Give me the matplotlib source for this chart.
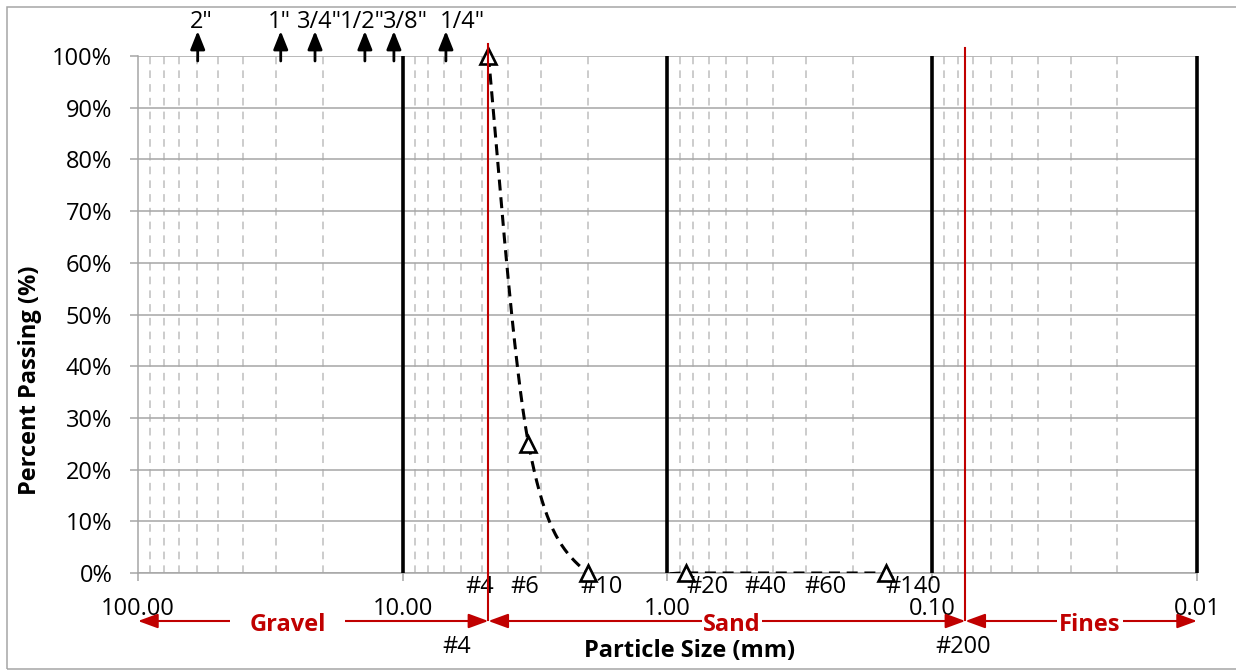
import numpy as np
import matplotlib
matplotlib.use("Agg")
import matplotlib.pyplot as plt
from matplotlib.patches import Rectangle
from matplotlib.ticker import LogLocator, NullFormatter

# ---------------- data ----------------
sieve_size_mm = [4.75, 3.35, 2.0, 0.85, 0.15]
percent_passing = [100, 25, 0, 0, 0]

x_tick_values = [100, 10, 1, 0.1, 0.01]
x_tick_labels = ["100.00", "10.00", "1.00", "0.10", "0.01"]
y_tick_values = list(range(0, 101, 10))
y_tick_labels = [f"{v}%" for v in y_tick_values]

decade_lines_mm = [10, 1, 0.1, 0.01]

sieve_labels = ["#4", "#6", "#10", "#20", "#40", "#60", "#140"]
sieve_label_mm = [5.11, 3.45, 1.78, 0.709, 0.428, 0.252, 0.118]

inch_labels = ['2"', '1"', '3/4"', '1/2"', '3/8"', '1/4"']
inch_arrow_mm = [59.5, 28.9, 21.45, 13.9, 10.8, 6.87]
inch_label_mm = [57.6, 29.3, 20.7, 14.19, 9.80, 5.94]

boundary_mm = [4.75, 0.075]
boundary_labels = ["#4", "#200"]
boundary_label_mm = [6.23, 0.0765]

zone_names = ["Gravel", "Sand", "Fines"]
zone_edges_mm = [(100, 4.75), (4.75, 0.075), (0.075, 0.01)]
zone_label_mm = [27.25, 0.571, 0.0254]

# ---------------- style ----------------
RED = "#C00000"
GRID = "#A6A6A6"
MINOR = "#BFBFBF"
plt.rcParams["font.family"] = ["Open Sans", "DejaVu Sans"]
FS = 17

W, H = 1236, 671
fig = plt.figure(figsize=(W / 100, H / 100), dpi=100)
fig.patch.set_facecolor("white")

# outer chart frame
fig.add_artist(Rectangle((7 / W, 2 / H), (W + 10) / W, (H - 9) / H,
                         transform=fig.transFigure, fill=False,
                         edgecolor="#A6A6A6", lw=1.1))

L, R, B, T = 138, 1197, 573, 56
ax = fig.add_axes([L / W, 1 - B / H, (R - L) / W, (B - T) / H])
ax.set_xscale("log")
ax.set_xlim(100, 0.01)
ax.set_ylim(0, 100)


def px_to_pct(py):
    return (B - py) / (B - T) * 100.0


# grid
ax.xaxis.set_minor_locator(LogLocator(base=10, subs=np.arange(2, 10)))
ax.xaxis.set_minor_formatter(NullFormatter())
ax.grid(which="minor", axis="x", color=MINOR, lw=1.1, ls=(0, (5, 4)), zorder=1)
ax.grid(which="major", axis="y", color=GRID, lw=1.1, zorder=1)
ax.set_axisbelow(True)

for s in ["top", "right"]:
    ax.spines[s].set_visible(False)
for s in ["left", "bottom"]:
    ax.spines[s].set_color(GRID)
    ax.spines[s].set_linewidth(1.1)

ax.set_xticks(x_tick_values)
ax.set_xticklabels(x_tick_labels)
ax.set_yticks(y_tick_values)
ax.set_yticklabels(y_tick_labels)
ax.tick_params(axis="x", which="major", length=5.5, width=1.1, color=GRID,
               pad=12, labelsize=FS)
ax.tick_params(axis="x", which="minor", length=0)
ax.tick_params(axis="y", length=5.5, width=1.1, color=GRID, pad=13, labelsize=FS)

# black decade lines
for d in decade_lines_mm:
    ax.plot([d, d], [0, 100], color="black", lw=2.6, zorder=3,
            solid_capstyle="butt", clip_on=False)

# smooth curve (Catmull-Rom in log-x space)
u = np.log10(np.array(sieve_size_mm, dtype=float))
v = np.array(percent_passing, dtype=float)
P = np.column_stack([u, v])
Pe = np.vstack([P[0], P, P[-1]])
t = np.linspace(0, 1, 80)[:, None]
h00 = 2 * t**3 - 3 * t**2 + 1
h10 = t**3 - 2 * t**2 + t
h01 = -2 * t**3 + 3 * t**2
h11 = t**3 - t**2
segs = []
for i in range(1, len(Pe) - 2):
    p0, p1, p2, p3 = Pe[i - 1], Pe[i], Pe[i + 1], Pe[i + 2]
    m1 = (p2 - p0) / 2
    m2 = (p3 - p1) / 2
    segs.append(h00 * p1 + h10 * m1 + h01 * p2 + h11 * m2)
curve = np.vstack(segs)
ax.plot(10 ** curve[:, 0], curve[:, 1], color="black", lw=2.2,
        ls=(0, (3.6, 2.2)), zorder=4)

ax.plot(sieve_size_mm, percent_passing, ls="none", marker="^", ms=11,
        mfc="white", mec="black", mew=1.9, zorder=5, clip_on=False)

# red boundary lines
tops = [px_to_pct(44), px_to_pct(48)]
for b, tp in zip(boundary_mm, tops):
    ax.plot([b, b], [tp, px_to_pct(620)], color=RED, lw=1.5, zorder=6,
            clip_on=False)

# zone arrows
y_arrow = px_to_pct(621)
pads = [0.8, 0.05, 0.1]
for name, (a, b), lx, pd in zip(zone_names, zone_edges_mm, zone_label_mm, pads):
    ax.annotate("", xy=(a, y_arrow), xytext=(b, y_arrow),
                arrowprops=dict(arrowstyle="<|-|>,head_length=0.6,head_width=0.22",
                                color=RED, lw=1.5, mutation_scale=20,
                                shrinkA=0, shrinkB=0),
                annotation_clip=False, zorder=6)
    ax.text(lx, px_to_pct(625), name, color=RED, fontsize=FS, fontweight="bold",
            ha="center", va="center", zorder=7, clip_on=False,
            bbox=dict(boxstyle=f"square,pad={pd}", fc="white", ec="none"))

# sieve labels under axis
for lab, x in zip(sieve_labels, sieve_label_mm):
    ax.text(x, px_to_pct(587), lab, fontsize=FS, ha="center", va="center",
            clip_on=False)

for lab, x in zip(boundary_labels, boundary_label_mm):
    ax.text(x, px_to_pct(647), lab, fontsize=FS, ha="center", va="center",
            clip_on=False)

# inch sieve arrows on top
for lab, xa, xl in zip(inch_labels, inch_arrow_mm, inch_label_mm):
    ax.annotate("", xy=(xa, px_to_pct(31)), xytext=(xa, px_to_pct(61)),
                arrowprops=dict(arrowstyle="-|>,head_length=0.55,head_width=0.22",
                                color="black", lw=2.0, mutation_scale=20,
                                shrinkA=0, shrinkB=0),
                annotation_clip=False)
    ax.text(xl, px_to_pct(22), lab, fontsize=FS, ha="center", va="center",
            clip_on=False)

# axis titles
fig.text(690 / W, 1 - 651 / H, "Particle Size (mm)", fontsize=FS,
         fontweight="bold", ha="center", va="center")
fig.text(30 / W, 1 - 380 / H, "Percent Passing (%)", fontsize=FS,
         fontweight="bold", ha="center", va="center", rotation=90)

fig.savefig("out.png", dpi=100, facecolor="white")
